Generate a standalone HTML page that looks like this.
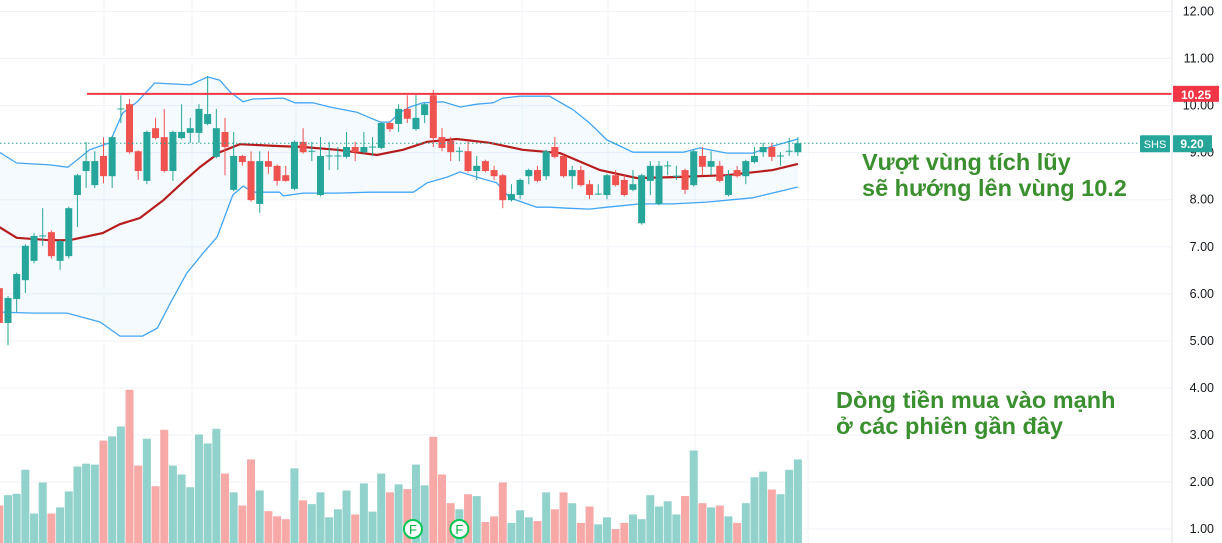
<!DOCTYPE html>
<html><head><meta charset="utf-8">
<style>
html,body{margin:0;padding:0;background:#fff;}
svg{display:block;font-family:"Liberation Sans","DejaVu Sans",sans-serif;}
</style></head>
<body>
<svg id="chart" width="1222" height="543" viewBox="0 0 1222 543" xmlns="http://www.w3.org/2000/svg">
<g id="grid"></g>
<g id="vol"></g>
<g id="bands"></g>
<g id="candles"></g>
<g id="overlay"></g>
<g id="axis"></g>
<text x="862" y="170" font-size="23.5" font-weight="bold" fill="#3a8f2f" font-family="Liberation Sans, DejaVu Sans, sans-serif">Vượt vùng tích lũy</text>
<text x="862" y="196" font-size="23.5" font-weight="bold" fill="#3a8f2f" font-family="Liberation Sans, DejaVu Sans, sans-serif">sẽ hướng lên vùng 10.2</text>
<text x="836" y="408" font-size="23.5" font-weight="bold" fill="#3a8f2f" font-family="Liberation Sans, DejaVu Sans, sans-serif">Dòng tiền mua vào mạnh</text>
<text x="836" y="434" font-size="23.5" font-weight="bold" fill="#3a8f2f" font-family="Liberation Sans, DejaVu Sans, sans-serif">ở các phiên gần đây</text>
</svg>
<script>
const opens=[6.12,5.38,5.89,6.29,6.70,7.23,7.31,6.70,6.80,8.10,8.61,8.31,8.93,8.50,9.93,10.03,9.03,8.40,9.52,9.33,8.61,9.31,9.42,9.42,9.61,8.91,9.44,8.21,8.93,8.82,7.91,8.82,8.72,8.52,8.23,9.23,9.03,8.10,8.93,8.93,8.91,9.12,9.01,9.12,9.10,9.63,9.61,9.93,9.50,9.80,10.22,9.33,9.25,9.03,9.03,8.61,8.82,8.63,8.52,7.99,8.10,8.50,8.63,8.50,9.12,8.93,8.50,8.63,8.33,8.12,8.10,8.52,8.42,8.21,7.50,8.40,7.91,8.72,8.50,8.63,8.31,8.93,8.70,8.72,8.10,8.63,8.50,8.80,9.01,9.12,8.93,9.03,9.01];
const highs=[6.30,5.95,6.45,7.05,7.29,7.82,7.35,7.15,7.85,8.55,9.23,9.03,9.33,9.36,10.22,10.14,9.05,9.47,9.74,9.93,9.47,10.03,9.74,10.03,10.63,9.93,9.74,9.44,8.95,9.03,9.03,9.03,8.75,8.72,9.26,9.52,9.23,9.33,9.23,9.12,9.44,9.23,9.44,9.33,9.66,9.66,10.03,10.22,10.22,10.06,10.33,9.52,9.33,9.12,9.25,8.93,8.85,8.72,8.55,8.33,8.45,8.66,8.72,9.06,9.33,8.96,8.72,8.72,8.42,8.33,8.55,8.63,8.52,8.63,8.55,8.82,8.82,8.82,8.72,8.66,9.06,9.12,9.03,8.82,8.63,8.72,8.85,9.12,9.21,9.21,9.01,9.31,9.33];
const lows=[5.30,4.91,5.61,6.02,6.65,7.02,6.75,6.51,6.75,7.42,8.25,8.25,8.35,8.25,9.63,8.98,8.42,8.33,9.28,8.58,8.40,9.28,9.21,9.21,9.58,8.88,8.52,8.18,8.72,7.96,7.72,8.55,8.30,8.38,8.20,8.98,8.82,8.07,8.63,8.63,8.88,8.82,8.98,8.93,9.07,9.44,9.44,9.63,9.47,9.63,9.12,9.03,8.82,8.82,8.58,8.42,8.58,8.42,7.82,7.96,8.01,8.33,8.37,8.42,8.88,8.47,8.23,8.28,8.01,8.10,8.01,8.28,8.07,8.18,7.47,8.10,7.88,8.52,8.42,8.12,8.28,8.52,8.52,8.37,8.07,8.47,8.33,8.77,8.91,8.82,8.72,8.93,8.93];
const closes=[5.38,5.91,6.42,7.02,7.23,7.24,6.80,7.12,7.82,8.52,8.82,8.82,8.50,9.33,9.94,9.01,8.61,9.44,9.31,8.61,9.44,9.44,9.52,9.93,9.82,9.52,9.12,8.93,8.80,7.99,8.82,8.70,8.40,8.40,9.23,9.01,9.04,8.93,8.94,8.94,9.12,9.01,9.12,9.13,9.63,9.50,9.93,9.72,9.74,10.03,9.31,9.10,9.01,9.04,8.61,8.72,8.61,8.50,7.99,8.12,8.42,8.63,8.40,9.03,8.91,8.50,8.63,8.31,8.10,8.13,8.52,8.31,8.10,8.33,8.52,8.72,8.72,8.73,8.51,8.21,9.03,8.70,8.82,8.40,8.52,8.50,8.82,8.93,9.12,8.91,8.94,9.04,9.20];
const volumes=[1.50,1.72,1.75,2.26,1.33,1.99,1.33,1.46,1.80,2.33,2.39,2.37,2.88,2.97,3.18,3.96,2.35,2.92,1.91,3.11,2.35,2.16,1.89,3.01,2.82,3.13,2.18,1.78,1.50,2.48,1.82,1.38,1.27,1.21,2.29,1.61,1.53,1.78,1.25,1.42,1.82,1.31,1.97,1.37,2.18,1.78,1.95,1.85,2.37,1.93,2.96,2.16,1.55,1.42,1.74,1.70,1.15,1.27,1.99,1.13,1.40,1.25,1.17,1.78,1.42,1.78,1.55,1.13,1.48,1.10,1.25,1.00,1.13,1.31,1.21,1.72,1.48,1.59,1.31,1.70,2.67,1.55,1.46,1.50,1.27,1.13,1.55,2.10,2.22,1.84,1.74,2.26,2.48];
const upperIdx=[0,2.0,5.8,7.9,10.4,12.7,14.2,15.9,17.9,22.0,24.0,25.4,26.6,28.1,29.2,32.7,34.1,36.1,38.1,41.2,42.7,43.9,45.0,46.2,47.3,48.8,51.1,53.1,55.0,56.9,58.0,60.0,63.4,66.1,68.0,70.0,73.0,78.8,80.7,83.8,86.8,89.1,92.0];
const upperVal=[9.01,8.78,8.74,8.69,9.06,9.21,9.84,10.08,10.48,10.44,10.61,10.54,10.29,10.08,10.14,10.16,10.06,10.06,9.97,9.86,9.74,9.65,9.65,9.86,9.97,10.06,10.08,9.97,10.03,10.06,10.16,10.20,10.20,9.91,9.63,9.27,9.01,9.01,9.10,8.99,8.99,9.14,9.29];
const lowerIdx=[0,3.9,7.8,11.6,13.9,16.5,18.2,19.7,21.6,23.5,25.1,26.9,28.1,29.2,32.3,32.7,35.0,38.9,42.7,47.7,49.3,51.6,53.1,55.0,57.3,58.8,61.9,63.4,65.4,68.0,70.0,73.8,77.6,81.5,86.8,90.7,92.0];
const lowerVal=[5.61,5.59,5.59,5.40,5.10,5.10,5.27,5.80,6.44,6.87,7.21,8.10,8.29,8.16,8.16,8.08,8.14,8.14,8.16,8.16,8.36,8.48,8.59,8.48,8.36,8.04,7.84,7.84,7.82,7.80,7.84,7.91,7.91,7.95,8.04,8.21,8.27];
const maIdx=[0,2.0,5.8,8.1,11.9,13.9,16.2,18.9,21.2,23.1,25.4,27.7,32.3,35.0,38.9,43.5,46.5,49.3,52.7,56.5,60.3,63.4,64.6,69.2,73.5,77.6,83.8,89.1,92.0];
const maVal=[7.42,7.19,7.14,7.14,7.29,7.48,7.61,7.99,8.38,8.69,9.01,9.18,9.14,9.12,9.06,8.95,9.06,9.23,9.29,9.21,9.06,9.01,8.99,8.63,8.46,8.48,8.52,8.63,8.76];
const priceTicks=["12.00","11.00","10.00","9.00","8.00","7.00","6.00","5.00","4.00","3.00","2.00","1.00"];
const resistance=10.25;
const lastPrice=9.20;
const earningsIdx=[48,53];

const NS="http://www.w3.org/2000/svg";
function xOf(i){return -0.68+8.68*i;}
function yOf(p){return 11.5+(12-p)*47.05;}
function mk(tag,attrs,parent){const e=document.createElementNS(NS,tag);for(const k in attrs)e.setAttribute(k,attrs[k]);parent.appendChild(e);return e;}
const G=document.getElementById('grid'),V=document.getElementById('vol'),B=document.getElementById('bands'),C=document.getElementById('candles'),O=document.getElementById('overlay'),A=document.getElementById('axis');
const PLOT_R=1172;
priceTicks.forEach(t=>{const y=yOf(parseFloat(t));
 const l=mk('line',{x1:0,x2:PLOT_R,y1:y,y2:y,stroke:'#f0f3fa','stroke-width':1},G);
 
 
});
[104,192,296,434,522,608,695,808].forEach(x=>{
 const l=mk('line',{x1:x,x2:x,y1:0,y2:543,stroke:'#f0f3fa','stroke-width':1},G);
 
 
});
volumes.forEach((v,i)=>{const up=closes[i]>=opens[i];const y=yOf(v);
 const r=mk('rect',{x:xOf(i)-4,y:y,width:8,height:543-y,fill:up?'#92d2cc':'#f7a9a7'},V);
 
 
});
function pts(idx,val){return idx.map((k,j)=>xOf(k).toFixed(1)+','+yOf(val[j]).toFixed(1));}
const up=pts(upperIdx,upperVal),lo=pts(lowerIdx,lowerVal).reverse();
const fill=mk('polygon',{points:up.concat(lo).join(' '),fill:'rgba(33,150,243,0.05)'},B);


const ub=mk('polyline',{points:up.join(' '),fill:'none',stroke:'#42a5f5','stroke-width':1.3},B);


const lb=mk('polyline',{points:pts(lowerIdx,lowerVal).join(' '),fill:'none',stroke:'#42a5f5','stroke-width':1.3},B);


const ma=mk('polyline',{points:pts(maIdx,maVal).join(' '),fill:'none',stroke:'#b71c1c','stroke-width':2.2},B);


opens.forEach((o,i)=>{const c=closes[i];const upc=c>=o;const col=upc?'#26a69a':'#ef5350';const x=xOf(i);
 const w=mk('line',{x1:x,x2:x,y1:yOf(highs[i]),y2:yOf(lows[i]),stroke:col,'stroke-width':1},C);
 
 
 const yt=yOf(Math.max(o,c)),yb=yOf(Math.min(o,c));
 const b=mk('rect',{x:x-3.5,y:yt,width:7,height:Math.max(1,yb-yt),fill:col},C);
 
 
});
const ry=yOf(resistance);
const rl=mk('line',{x1:87,x2:PLOT_R,y1:ry,y2:ry,stroke:'#f23645','stroke-width':2},O);


const ly=yOf(lastPrice);
const pl=mk('line',{x1:0,x2:PLOT_R,y1:ly,y2:ly,stroke:'#26a69a','stroke-width':1,'stroke-dasharray':'1.5,2.5'},O);


earningsIdx.forEach(i=>{const x=xOf(i)+(i===48?-3:0);
 const g=mk('g',{},O);
 
 
 mk('circle',{cx:x,cy:529,r:9,fill:'#fff',stroke:'#00c853','stroke-width':2},g);
 const t=mk('text',{x:x,y:534,'text-anchor':'middle','font-size':13,fill:'#00b140'},g);t.textContent='F';
});
const ax=mk('line',{x1:PLOT_R,x2:PLOT_R,y1:0,y2:543,stroke:'#e0e3eb','stroke-width':1},A);


priceTicks.forEach(t=>{
 const tx=mk('text',{x:1214,y:yOf(parseFloat(t))+4,'text-anchor':'end','font-size':12.5,fill:'#131722'},A);
 
 
 tx.textContent=t;
});
const rb=mk('rect',{x:1173,y:ry-8,width:46,height:16,fill:'#f23645'},A);


const rt=mk('text',{x:1196,y:ry+5,'text-anchor':'middle','font-size':12,'font-weight':'bold',fill:'#fff'},A);rt.textContent=resistance.toFixed(2);
const sb=mk('rect',{x:1140,y:ly-8,width:30,height:17,fill:'#26a69a',rx:1},A);


const st=mk('text',{x:1155,y:ly+5,'text-anchor':'middle','font-size':11,fill:'#fff'},A);st.textContent='SHS';
const pb=mk('rect',{x:1173,y:ly-8,width:39,height:17,fill:'#26a69a'},A);


const pt=mk('text',{x:1192,y:ly+5,'text-anchor':'middle','font-size':12,'font-weight':'bold',fill:'#fff'},A);pt.textContent=lastPrice.toFixed(2);
</script>
</body></html>
